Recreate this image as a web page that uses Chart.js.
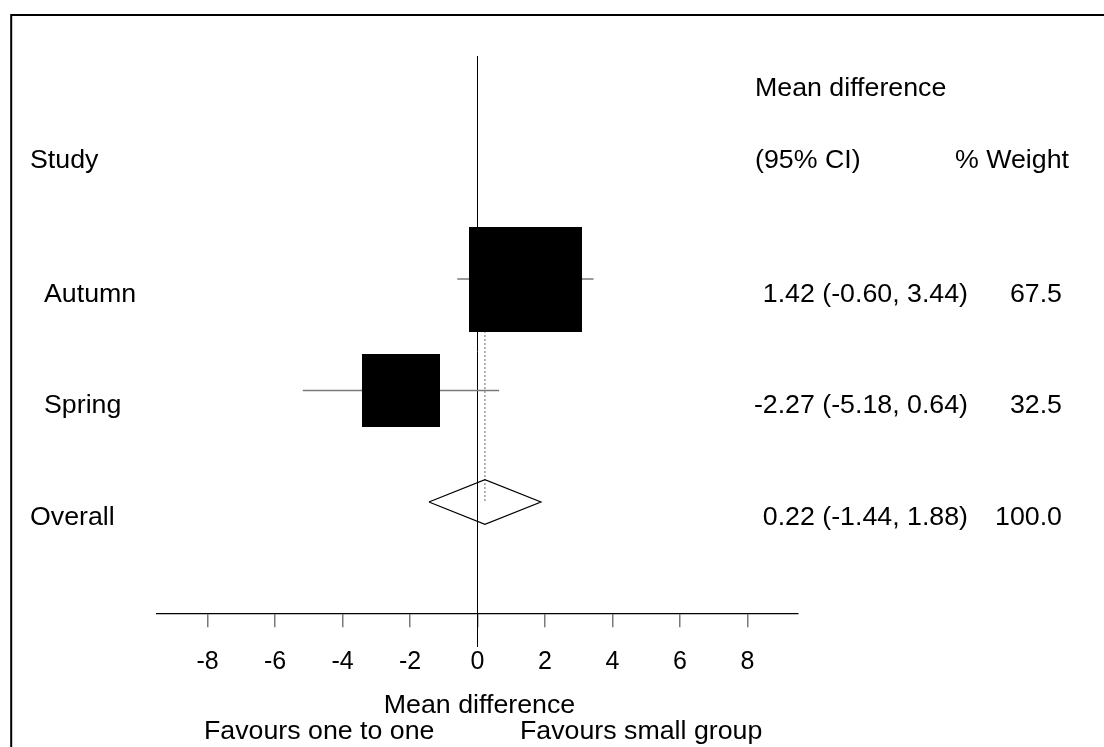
<!DOCTYPE html>
<html>
<head>
<meta charset="utf-8">
<script src="https://cdn.jsdelivr.net/npm/chart.js@4.4.1/dist/chart.umd.min.js"></script>
<style>
  html, body { margin: 0; padding: 0; background: #fff; }
  #wrap { width: 1104px; height: 747px; }
</style>
</head>
<body>
<div id="wrap"><canvas id="forest" width="1104" height="747"></canvas></div>
<script>
// study rows (top to bottom)
var studies = ['Autumn', 'Spring'];
var meanDiff = [1.42, -2.27];
var ciLow = [-0.60, -5.18];
var ciHigh = [3.44, 0.64];
var weights = [67.5, 32.5];
var rowPos = [3, 2];

// pooled estimate
var overallLabel = 'Overall';
var overallMd = 0.22;
var overallLow = -1.44;
var overallHigh = 1.88;
var overallWeight = 100.0;
var overallRow = 1;

var xTicks = [-8, -6, -4, -2, 0, 2, 4, 6, 8];

var FONT = '"Liberation Sans", Arial, sans-serif';

function fmt(v) { return v.toFixed(2); }

// box size follows sqrt of weight
function makeBox(w) {
    var c = document.createElement('canvas');
    c.width = Math.round(13.75 * Math.sqrt(w));
    c.height = Math.round(0.93 * c.width);
    var g = c.getContext('2d');
    g.fillStyle = '#000';
    g.fillRect(0, 0, c.width, c.height);
    return c;
}

var datasets = [];

// line of no effect
datasets.push({
    data: [{x: 0, y: -0.3}, {x: 0, y: 5}],
    showLine: true, borderColor: '#000', borderWidth: 1, pointRadius: 0, order: 5
});

// confidence intervals
for (var i = 0; i < studies.length; i++) {
    datasets.push({
        data: [{x: ciLow[i], y: rowPos[i]}, {x: ciHigh[i], y: rowPos[i]}],
        showLine: true, borderColor: '#7a7a7a', borderWidth: 1.5, pointRadius: 0, order: 3
    });
}

// dashed line at overall estimate
datasets.push({
    data: [{x: overallMd, y: rowPos[0]}, {x: overallMd, y: overallRow}],
    showLine: true, borderColor: '#8a8a8a', borderWidth: 1.3, borderDash: [2, 2], pointRadius: 0, order: 2
});

// weighted boxes (drawn on top)
datasets.push({
    data: studies.map(function(s, i) { return {x: meanDiff[i], y: rowPos[i]}; }),
    pointStyle: weights.map(makeBox),
    pointRadius: 5,
    order: 0
});

// diamond for pooled estimate
var dh = 0.2;
datasets.push({
    data: [
        {x: overallLow, y: overallRow},
        {x: overallMd, y: overallRow + dh},
        {x: overallHigh, y: overallRow},
        {x: overallMd, y: overallRow - dh},
        {x: overallLow, y: overallRow}
    ],
    showLine: true, borderColor: '#000', borderWidth: 1.2, pointRadius: 0, fill: false, order: 1
});

function txt(ctx, s, x, y, align) {
    ctx.save();
    ctx.translate(x, y);
    ctx.scale(1.07, 1);
    ctx.textAlign = align;
    ctx.textBaseline = 'middle';
    ctx.fillText(s, 0, 0);
    ctx.restore();
}

var framePlugin = {
    id: 'frame',
    beforeDraw: function(chart) {
        var ctx = chart.ctx;
        ctx.save();
        ctx.fillStyle = '#fff';
        ctx.fillRect(0, 0, chart.width, chart.height);
        ctx.strokeStyle = '#000';
        ctx.lineWidth = 2;
        ctx.strokeRect(11.2, 15, 1200, 800);
        ctx.restore();
    }
};

var textPlugin = {
    id: 'texts',
    afterDraw: function(chart) {
        var ctx = chart.ctx;
        var ys = chart.scales.y;
        var xs = chart.scales.x;
        var off = 16;
        ctx.save();
        ctx.fillStyle = '#000';
        ctx.font = '25px ' + FONT;

        // headers
        txt(ctx, 'Mean difference', 755, ys.getPixelForValue(4.85) + off, 'left');
        txt(ctx, 'Study', 30, ys.getPixelForValue(4.2) + off, 'left');
        txt(ctx, '(95% CI)', 755, ys.getPixelForValue(4.2) + off, 'left');
        txt(ctx, '% Weight', 1069, ys.getPixelForValue(4.2) + off, 'right');

        for (var i = 0; i < studies.length; i++) {
            var py = ys.getPixelForValue(rowPos[i]) + off;
            txt(ctx, studies[i], 44, py, 'left');
            txt(ctx, fmt(meanDiff[i]) + ' (' + fmt(ciLow[i]) + ', ' + fmt(ciHigh[i]) + ')', 968, py, 'right');
            txt(ctx, weights[i].toFixed(1), 1062, py, 'right');
        }
        var oy = ys.getPixelForValue(overallRow) + off;
        txt(ctx, overallLabel, 30, oy, 'left');
        txt(ctx, fmt(overallMd) + ' (' + fmt(overallLow) + ', ' + fmt(overallHigh) + ')', 968, oy, 'right');
        txt(ctx, overallWeight.toFixed(1), 1062, oy, 'right');

        // axis title and direction labels
        txt(ctx, 'Mean difference', xs.getPixelForValue(0) + 2, 706, 'center');
        txt(ctx, 'Favours one to one', 204, 732, 'left');
        txt(ctx, 'Favours small group', 520, 732, 'left');
        ctx.restore();
    }
};

new Chart(document.getElementById('forest'), {
    type: 'scatter',
    data: { datasets: datasets },
    options: {
        responsive: false,
        animation: false,
        layout: { padding: { left: 157, right: 306, top: 56, bottom: 100 } },
        plugins: { legend: { display: false }, tooltip: { enabled: false } },
        scales: {
            x: {
                type: 'linear',
                min: -9.5,
                max: 9.5,
                position: { y: 0 },
                border: { color: '#000', width: 1.3 },
                grid: { drawOnChartArea: false, drawTicks: true, tickLength: 13, color: '#7a7a7a', lineWidth: 1.5 },
                afterBuildTicks: function(scale) {
                    scale.ticks = xTicks.map(function(v) { return {value: v}; });
                },
                ticks: {
                    autoSkip: false,
                    maxRotation: 0,
                    padding: 21,
                    color: '#000',
                    font: { family: FONT, size: 25 },
                    callback: function(v) { return String(v); }
                }
            },
            y: { min: -0.3, max: 5, display: false }
        }
    },
    plugins: [framePlugin, textPlugin]
});
</script>
</body>
</html>
